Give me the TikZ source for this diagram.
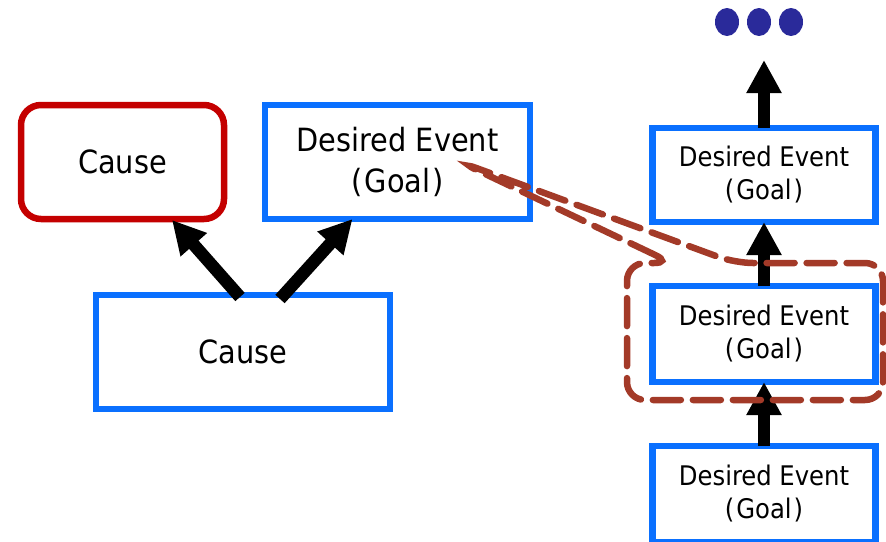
\documentclass[tikz,border=0pt]{standalone}
\usepackage{fontspec}
\setmainfont{DejaVu Sans Condensed}
\usetikzlibrary{arrows.meta,calc}
\definecolor{boxblue}{RGB}{10,112,255}
\definecolor{causered}{RGB}{196,0,0}
\definecolor{callout}{RGB}{163,58,40}
\definecolor{dotnavy}{RGB}{42,42,154}
\newcommand{\goaltext}{(\kern2pt Goal\kern2pt)}
\tikzset{
  bluebox/.style={draw=boxblue, line width=6.5pt, inner sep=0pt, outer sep=0pt, align=center},
  bigfont/.style={font=\fontsize{32}{41}\selectfont},
  smallfont/.style={font=\fontsize{27}{33}\selectfont},
  redbox/.style={draw=causered, line width=6.5pt, rounded corners=20pt, inner sep=0pt, outer sep=0pt, align=center},
  bigarrow/.style={line width=12.5pt, -{Triangle[width=33pt,length=33pt]}},
  calloutline/.style={draw=callout, line width=6.5pt, dash pattern=on 28pt off 12pt, rounded corners=18pt, line cap=round},
}
\begin{document}
\begin{tikzpicture}[x=1pt,y=-1pt]
\useasboundingbox (0,0) rectangle (886,541);

% left part
\node[redbox, bigfont, minimum width=203pt, minimum height=114pt] (cause1) at (122.5,162) {Cause};
\node[bluebox, bigfont, minimum width=265pt, minimum height=114pt] (goal0) at (397.5,162) {Desired Event\\\goaltext};
\node[bluebox, bigfont, minimum width=294pt, minimum height=114pt] (cause2) at (243,352) {Cause};

\draw[bigarrow] ([xshift=-3pt,yshift=-2pt]cause2.north) -- ([xshift=-52pt,yshift=-1pt]cause1.south east);
\draw[bigarrow] ([xshift=37pt,yshift=-4pt]cause2.north) -- ([xshift=-45pt]goal0.south);

% right column
\node[bluebox, smallfont, minimum width=223pt, minimum height=94pt] (g1) at (764,175) {Desired Event\\\goaltext};
\node[bluebox, smallfont, minimum width=223pt, minimum height=96pt] (g2) at (764,334) {Desired Event\\\goaltext};
\node[bluebox, smallfont, minimum width=223pt, minimum height=96pt] (g3) at (764,494) {Desired Event\\\goaltext};

\coordinate (top) at (764,60);
\draw[bigarrow] (g1.north) -- (top);
\draw[bigarrow] (g2.north) -- (g1.south);
\draw[bigarrow] (g3.north) -- (g2.south);

% dots
\fill[dotnavy] (727,22) ellipse (12pt and 14pt);
\fill[dotnavy] (759,22) ellipse (12pt and 14pt);
\fill[dotnavy] (791,22) ellipse (12pt and 14pt);

% callout
\coordinate (tip) at (460,162);
\draw[calloutline] (672,263) -- (tip) -- (735,263) -- (883,263) -- (883,400) -- (627,400) -- (627,263) -- cycle;
\end{tikzpicture}
\end{document}
